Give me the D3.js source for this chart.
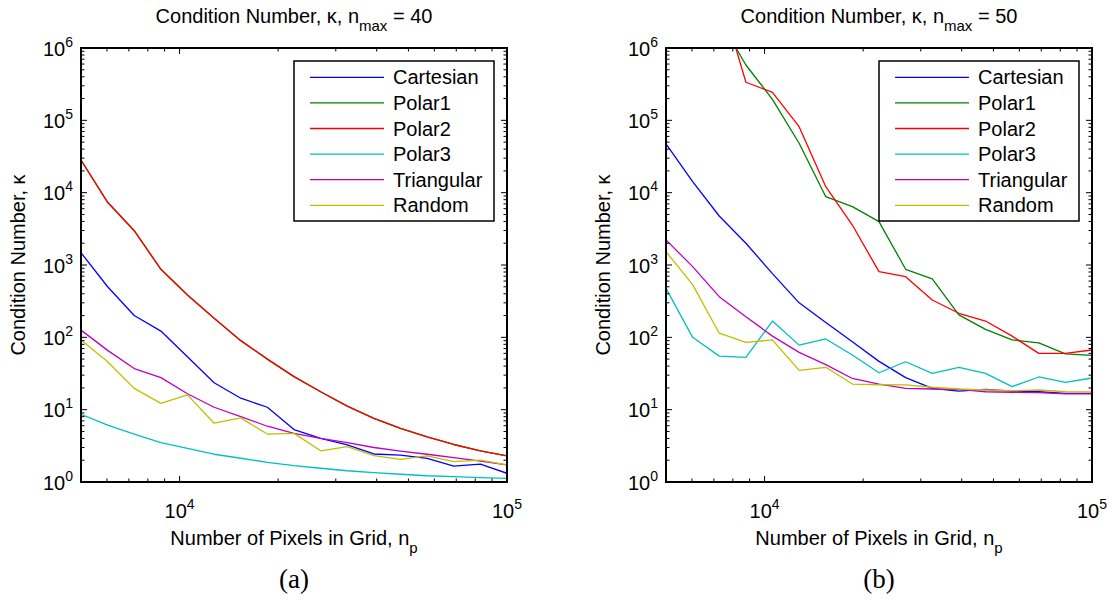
<!DOCTYPE html>
<html>
<head>
<meta charset="utf-8">
<script src="https://cdn.jsdelivr.net/npm/d3@7"></script>
<style>
  body { margin: 0; background: #fff; }
  svg { display: block; font-family: "Liberation Sans", Arial, Helvetica, sans-serif; }
</style>
</head>
<body>
<div id="d3chart"></div>
<script>
// x positions (number of pixels in grid), shared by both panels
const npValues = [5000, 6030, 7270, 8770, 10570, 12750, 15380, 18540, 22360, 26970, 32520, 39210, 47290, 57030, 68770, 82930, 100000]

const seriesNames = ['Cartesian', 'Polar1', 'Polar2', 'Polar3', 'Triangular', 'Random']
const seriesColors = ['#0000ff', '#008000', '#ff0000', '#00bfbf', '#bf00bf', '#bfbf00']

// panel (a), n_max = 40
const cartesian40 = [1480, 500, 200, 122, 54, 23.6, 14.4, 10.8, 5.3, 4.0, 3.25, 2.44, 2.36, 2.12, 1.66, 1.77, 1.32]
const polar1_40 = [28300, 7360, 2980, 872, 385, 183, 90, 50, 28.6, 17.7, 11.2, 7.6, 5.5, 4.2, 3.3, 2.7, 2.29]
const polar2_40 = [28300, 7360, 2980, 872, 385, 183, 90, 50, 28.6, 17.7, 11.2, 7.6, 5.5, 4.2, 3.3, 2.7, 2.29]
const polar3_40 = [8.6, 6.1, 4.6, 3.5, 2.92, 2.42, 2.13, 1.87, 1.68, 1.55, 1.43, 1.35, 1.28, 1.22, 1.19, 1.15, 1.12]
const triangular40 = [126, 66, 37, 27.7, 16.6, 10.8, 8.0, 5.9, 4.7, 4.0, 3.5, 3.0, 2.68, 2.42, 2.17, 1.95, 1.72]
const random40 = [92, 46, 19.7, 12.2, 16, 6.5, 7.7, 4.6, 4.7, 2.7, 3.08, 2.31, 2.06, 2.29, 1.91, 2.01, 1.72]

// panel (b), n_max = 50 (polar1/polar2 start above the top of the axes)
const cartesian50 = [47100, 14200, 4760, 2000, 760, 300, 160, 87, 46.5, 27.7, 19.7, 18.1, 19.1, 18.1, 17.7, 16.8, 16.8]
const polar1_50 = [null, null, 2500000, 582000, 195000, 48200, 8800, 6400, 3980, 872, 641, 204, 129, 92, 84, 59, 56.4]
const polar2_50 = [null, null, 6000000, 336000, 244000, 81700, 12100, 3570, 808, 689, 328, 215, 168, 104, 60, 60, 66.8]
const polar3_50 = [476, 100, 55, 53, 168, 78, 95, 57, 32.4, 46, 31.8, 38.5, 31.8, 20.8, 28.3, 23.9, 27.4]
const triangular50 = [2220, 950, 365, 193, 104, 62, 42, 27, 22.5, 19.7, 19.3, 19.1, 17.7, 17.4, 17.2, 16.5, 16.5]
const random50 = [1530, 535, 114, 85, 92, 35, 38.5, 22.6, 22.1, 22, 20.4, 19.3, 18.7, 18.3, 18.7, 17.7, 17.6]

const xDomain = [5000, 100000]
const yDomain = [1, 1e6]

class LogPanel {
  constructor (svg, opts) {
    this.svg = svg
    this.opts = opts
    this.g = svg.append('g').attr('transform', `translate(${opts.left},${opts.top})`)
    this.w = opts.width
    this.h = opts.height

    this.createScales()
    this.addClip()
    this.addDataVisuals()
    this.addAxes()
    this.addLabels()
    this.addLegend()
  }

  createScales () {
    this.x = d3.scaleLog().domain(xDomain).range([0, this.w])
    this.y = d3.scaleLog().domain(yDomain).range([this.h, 0])
  }

  addClip () {
    this.svg.append('clipPath').attr('id', this.opts.id + '-clip')
      .append('rect').attr('width', this.w).attr('height', this.h)
  }

  addDataVisuals () {
    const line = d3.line()
      .defined(d => d[1] != null)
      .x(d => this.x(d[0]))
      .y(d => this.y(d[1]))
    const plot = this.g.append('g').attr('clip-path', `url(#${this.opts.id}-clip)`)
    this.opts.series.forEach((vals, i) => {
      plot.append('path')
        .datum(npValues.map((n, j) => [n, vals[j]]))
        .attr('d', line)
        .attr('fill', 'none')
        .attr('stroke', seriesColors[i])
        .attr('stroke-width', 1.3)
        .attr('stroke-linejoin', 'round')
    })
  }

  // MATLAB style box with inward ticks on all four sides
  addAxes () {
    const g = this.g
    const isMajor = v => Math.abs(Math.log10(v) - Math.round(Math.log10(v))) < 1e-9
    const ticks = g.append('g').attr('stroke', '#000').attr('stroke-width', 1)

    this.x.ticks().forEach(v => {
      const len = isMajor(v) ? 6 : 3.5
      const px = this.x(v)
      ticks.append('line').attr('x1', px).attr('x2', px).attr('y1', this.h).attr('y2', this.h - len)
      ticks.append('line').attr('x1', px).attr('x2', px).attr('y1', 0).attr('y2', len)
    })
    this.y.ticks().forEach(v => {
      const len = isMajor(v) ? 6 : 3.5
      const py = this.y(v)
      ticks.append('line').attr('y1', py).attr('y2', py).attr('x1', 0).attr('x2', len)
      ticks.append('line').attr('y1', py).attr('y2', py).attr('x1', this.w).attr('x2', this.w - len)
    })

    g.append('rect')
      .attr('width', this.w).attr('height', this.h)
      .attr('fill', 'none').attr('stroke', '#000').attr('stroke-width', 2)

    const powerLabel = (sel, e) => {
      sel.append('tspan').text('10')
      sel.append('tspan').attr('dy', -9).attr('font-size', 14).text(e)
    }

    this.x.ticks().filter(isMajor).forEach(v => {
      const t = g.append('text')
        .attr('x', this.x(v)).attr('y', this.h + 36)
        .attr('text-anchor', 'middle').attr('font-size', 20)
      powerLabel(t, Math.round(Math.log10(v)))
    })
    this.y.ticks().filter(isMajor).forEach(v => {
      const t = g.append('text')
        .attr('x', -8).attr('y', this.y(v) + 7.5)
        .attr('text-anchor', 'end').attr('font-size', 20)
      powerLabel(t, Math.round(Math.log10(v)))
    })
  }

  addLabels () {
    const g = this.g
    const title = g.append('text')
      .attr('x', this.w / 2).attr('y', -25)
      .attr('text-anchor', 'middle').attr('font-size', 20)
    title.append('tspan').text('Condition Number, κ, n')
    title.append('tspan').attr('dy', 8).attr('font-size', 15).text('max')
    title.append('tspan').attr('dy', -8).text(' = ' + this.opts.nmax)

    const xl = g.append('text')
      .attr('x', this.w / 2).attr('y', this.h + 63)
      .attr('text-anchor', 'middle').attr('font-size', 20)
    xl.append('tspan').text('Number of Pixels in Grid, n')
    xl.append('tspan').attr('dy', 8).attr('font-size', 15).text('p')

    g.append('text')
      .attr('transform', `translate(-56,${this.h / 2}) rotate(-90)`)
      .attr('text-anchor', 'middle').attr('font-size', 20)
      .text('Condition Number, κ')

    g.append('text')
      .attr('x', this.w / 2).attr('y', this.h + 106)
      .attr('text-anchor', 'middle')
      .attr('font-family', '"Liberation Serif", "DejaVu Serif", serif')
      .attr('font-size', 27)
      .text(this.opts.caption)
  }

  addLegend () {
    const bw = 200
    const bh = 160
    const lg = this.g.append('g').attr('transform', `translate(${this.w - 13 - bw},13)`)
    lg.append('rect').attr('width', bw).attr('height', bh)
      .attr('fill', '#fff').attr('stroke', '#000').attr('stroke-width', 1.5)
    seriesNames.forEach((name, i) => {
      const ry = 16.3 + i * 25.6
      lg.append('line').attr('x1', 16).attr('x2', 90).attr('y1', ry).attr('y2', ry)
        .attr('stroke', seriesColors[i]).attr('stroke-width', 1.3)
      lg.append('text').attr('x', 99).attr('y', ry + 7).attr('font-size', 20).text(name)
    })
  }
}

const svg = d3.select('#d3chart').append('svg')
  .attr('width', 1113).attr('height', 605)

svg.append('rect').attr('width', 1113).attr('height', 605).attr('fill', '#fff')

new LogPanel(svg, {
  id: 'pa', left: 81, top: 48, width: 426, height: 434, nmax: 40, caption: '(a)',
  series: [cartesian40, polar1_40, polar2_40, polar3_40, triangular40, random40]
})
new LogPanel(svg, {
  id: 'pb', left: 666, top: 48, width: 426, height: 434, nmax: 50, caption: '(b)',
  series: [cartesian50, polar1_50, polar2_50, polar3_50, triangular50, random50]
})
</script>
</body>
</html>
